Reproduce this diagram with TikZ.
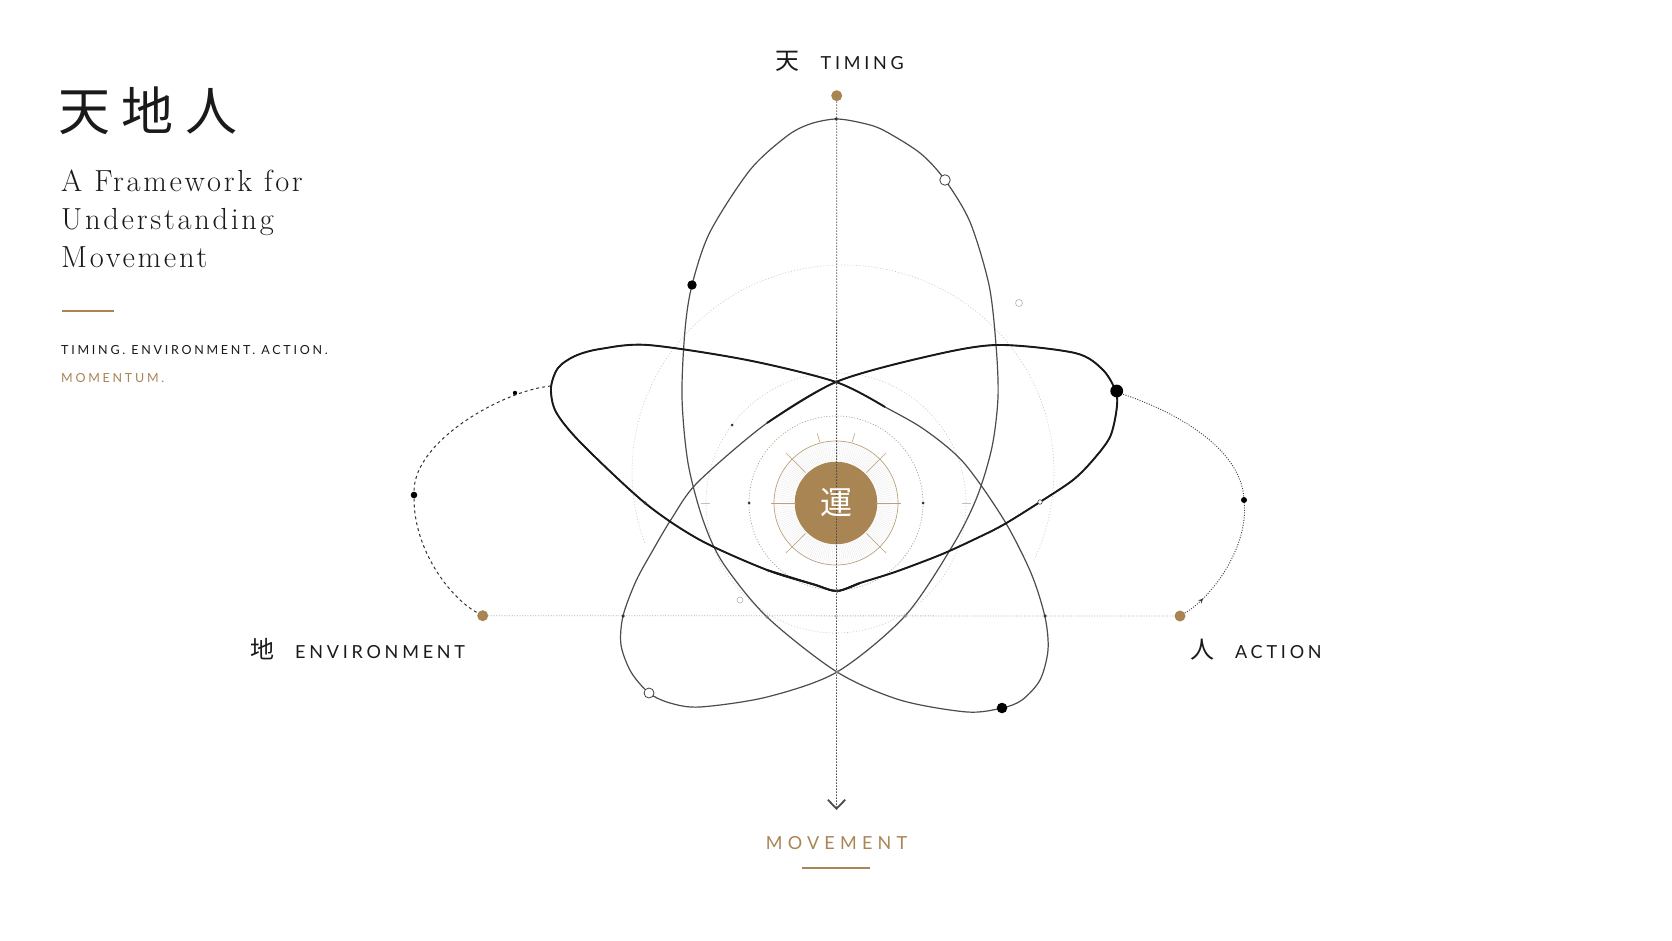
\documentclass[tikz,border=0pt]{standalone}
\usepackage{fontspec}
\newfontfamily\cjk{Noto Sans CJK JP}
\newfontfamily\cjkwide[LetterSpace=22]{Noto Sans CJK JP}
\newfontfamily\latowide[LetterSpace=21]{Lato}
\newfontfamily\latomove[LetterSpace=29]{Lato}
\newfontfamily\latocap[LetterSpace=22]{Lato}
\newfontfamily\subserif[LetterSpace=9]{Latin Modern Roman}
\usetikzlibrary{positioning,arrows.meta,decorations.markings}
\definecolor{gold}{RGB}{168,133,83}
\definecolor{ringtan}{RGB}{186,160,124}
\definecolor{ink}{RGB}{26,26,26}
\tikzset{
  orbit/.style={line width=1.2pt, black!70},
  wing/.style={line width=1.9pt, black!90},
  faint/.style={gray!45, line width=0.6pt, dash pattern=on 1pt off 2pt},
  tick/.style={ringtan, line width=0.6pt},
  bdot/.style={circle, fill=black, inner sep=0, minimum size=#1}, bdot/.default=4pt,
  hdot/.style={circle, draw=black!75, fill=white, line width=0.8pt, inner sep=0, minimum size=#1}, hdot/.default=10pt,
  gdot/.style={circle, fill=gold, inner sep=0, minimum size=11pt},
  pip/.style={circle, fill=black!80, inner sep=0, minimum size=3.5pt},
  lab/.style={inner sep=0, anchor=base west, text=ink, font=\latowide\fontsize{18}{18}\selectfont},
  han/.style={inner sep=0, anchor=base west, text=ink, font=\cjk\fontsize{24}{24}\selectfont},
  sub/.style={inner sep=0, anchor=base west, text=ink, font=\subserif\fontsize{30.5}{30.5}\selectfont},
  captext/.style={inner sep=0, anchor=base west, text=ink, font=\latocap\fontsize{12.5}{12.5}\selectfont}
}
\begin{document}
\begin{tikzpicture}[x=1pt, y=-1pt]
  \fill[white] (0,0) rectangle (1672,941);
  \useasboundingbox (0,0) rectangle (1672,941);

  \node[circle, fill=gold, minimum size=82.6pt, inner sep=0] (c) at (836,503) {};
  \draw[faint] plot[smooth, domain=-200:25, samples=60] ({843+211*cos(\x)}, {472+207*sin(\x)});
  \draw[faint] (c.center) circle[radius=130];
  \draw[ringtan!80!gray, line width=0.7pt, dash pattern=on 1pt off 1.8pt] (c.center) circle[radius=87];
  \foreach \a in {0,2,...,358}
    \draw[gray!18, line width=0.3pt] (c.center) ++(\a:42) -- ++(\a:19);
  \draw[ringtan, line width=0.7pt] (c.center) circle[radius=62];
  \foreach \a in {0,180}
    \draw[tick] (c.center) ++(\a:40) -- ++(\a:25);
  \foreach \a in {45,135,225,315}
    \draw[tick] (c.center) ++(\a:43) -- ++(\a:28);
  \foreach \a in {255,285}
    \draw[tick] (c.center) ++(\a:63) -- ++(\a:9);
  \foreach \a in {0,180}
    \draw[gray!50, line width=0.6pt] (c.center) ++(\a:126) -- ++(\a:9);
  \node[pip, minimum size=3pt] (r1) at (749,503) {};
  \node[pip, minimum size=3pt] (r2) at (923,503) {};
  \node[pip, minimum size=3pt] (r3) at (732,425) {};
  \node[hdot=6pt, draw=gray!60, line width=0.6pt] (r4) at (740,600) {};
  \node[hdot=7pt, draw=gray!60, line width=0.6pt] (r5) at (1019,303) {};

  \node[gdot] (t) at (836.7,95.7) {};
  \node[gdot] (el) at (482.7,615.7) {};
  \node[gdot] (ar) at (1180,616) {};
  \coordinate (m) at (836.5,810);
  \coordinate (lt) at (551,386);
  \draw[gray!60, line width=0.8pt, dash pattern=on 1pt off 1.6pt] (el) -- (ar);
  \draw[black!70, line width=0.8pt, dash pattern=on 1.5pt off 1.5pt,
        -{Straight Barb[length=9pt, width=17.4pt, line width=1.8pt]}] (t) -- (m);

  \node[bdot=4.4pt] (d1) at (515,393) {};
  \node[bdot=6.6pt] (d2) at (414,495) {};
  \node[bdot=6pt] (d3) at (1244,500) {};
  \draw[black!80, line width=1pt, dash pattern=on 3pt off 3pt]
    (lt) .. controls (505,390) and (414,440) .. (d2) .. controls (414,550) and (450,598) .. (el);
  \draw[black!75, line width=0.9pt, dash pattern=on 1pt off 1.5pt]
    (1116,392) .. controls (1180,412) and (1240,450) .. (d3);
  \draw[black!75, line width=0.9pt, dash pattern=on 1pt off 1.5pt, postaction={decorate},
        decoration={markings, mark=at position 0.18 with {\arrow{Stealth[length=5pt, width=4.5pt]}}}]
    (ar) .. controls (1215,595) and (1248,545) .. (d3);

  \draw[orbit] plot[smooth cycle] coordinates {
    (836,119) (862,123) (883,130) (920,153) (945,180) (970,222) (989,285) (996,345)
    (998,397) (992,447) (977,497) (953,545) (905,616) (837,672) (767,697) (700,707)
    (670,703) (649,693) (631,672) (621,645) (623,616) (636,581) (653,550) (672,518)
    (698,482) (767,423) (836,382) (925,357) (996,345) (1075,353) (1103,370) (1116,392)
    (1116.5,410) (1110,437) (1093,460) (1073,480) (1040,502) (1003,525) (973,540) (940,555)
    (895,572) (860,583) (837,591) (814,584.5) (767,570) (700,540) (645,503) (581,443)
    (556,412) (551,388) (558,368) (575,356) (600,349) (648,345) (747,360) (836,382)
    (885,407) (925,430) (964,463) (1004,520) (1031,573) (1045,617) (1048,650) (1040,680)
    (1022,700) (1002,708) (967,712) (900,700) (837,672) (767,617) (723,563) (703,520)
    (688,463) (682,397) (685,330) (692,285) (710,232) (750,170) (787,136) (810,124)};
  \draw[wing] plot[smooth] coordinates {
    (860,583) (837,591) (814,584.5) (767,570) (700,540) (645,503) (581,443) (556,412)
    (551,388) (558,368) (575,356) (600,349) (648,345) (747,360) (836,382) (885,407)};
  \draw[wing] plot[smooth] coordinates {
    (767,423) (836,382) (925,357) (996,345) (1075,353) (1103,370) (1116,392) (1116.5,410)
    (1110,437) (1093,460) (1073,480) (1040,502) (1003,525) (973,540) (940,555) (895,572)
    (860,583) (837,591) (814,584.5) (767,570)};

  \node[pip] (p1) at (836,119) {};
  \node[pip] (p2) at (836,382) {};
  \node[pip] (p3) at (837,591) {};
  \node[pip, fill=gray] (p4) at (837,672) {};
  \node[pip] (p5) at (645,503) {};
  \node[pip] (p6) at (623,616) {};
  \node[pip] (p7) at (1045,616) {};
  \node[pip, fill=gray] (p8) at (905,616) {};
  \node[pip, fill=gray] (p9) at (767,617) {};
  \node[pip, fill=gray!50] (p10) at (836,616) {};
  \node[hdot=4.5pt, line width=0.6pt] (p11) at (1040,502) {};
  \node[hdot=10.5pt] (w1) at (945,180) {};
  \node[hdot=10pt] (w2) at (649,693) {};
  \node[bdot=9.4pt] (b1) at (692,285) {};
  \node[bdot=12.8pt] (bd) at (1116.7,391) {};
  \node[bdot=10.6pt] (b2) at (1002,708) {};

  \node[text=white, font=\cjk\fontsize{32}{32}\selectfont] (yun) at (c) {運};

  \node[han] (tian) at (775,70) {天};
  \node[lab, right=21pt of tian.base east, anchor=base west] (timing) {TIMING};
  \node[han] (di) at (250.5,658.3) {地};
  \node[lab, right=20pt of di.base east, anchor=base west] (env) {ENVIRONMENT};
  \node[han] (ren) at (1190.5,658.3) {人};
  \node[lab, right=20pt of ren.base east, anchor=base west] (act) {ACTION};
  \node[inner sep=0, anchor=base, text=gold, font=\latomove\fontsize{18}{18}\selectfont] (move) at (836.5,849) {MOVEMENT};
  \draw[gold, line width=2pt] (802,868) -- (870,868);

  \node[inner sep=0, anchor=base west, text=ink, font=\cjkwide\fontsize{52}{52}\selectfont] (title) at (58,131) {天地人};
  \node[sub] (s1) at (61,192) {A Framework for};
  \node[sub] (s2) at (61,230) {Understanding};
  \node[sub] (s3) at (61,268) {Movement};
  \draw[gold, line width=2.2pt] (61.5,310.7) -- (114,310.7);
  \node[captext] (c1) at (61,354) {TIMING. ENVIRONMENT. ACTION.};
  \node[captext, text=gold] (c2) at (61,382.7) {MOMENTUM.};
\end{tikzpicture}
\end{document}
